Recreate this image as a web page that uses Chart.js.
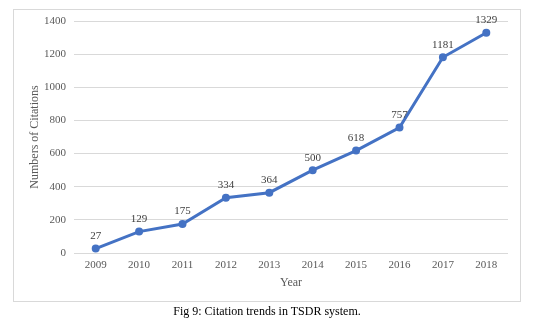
<!DOCTYPE html>
<html>
<head>
<meta charset="utf-8">
<script src="https://cdn.jsdelivr.net/npm/chart.js@4"></script>
<style>
  html, body { margin: 0; padding: 0; background: #fff; }
  #wrap { position: relative; width: 534px; height: 321px; overflow: hidden; }
  #frame { position: absolute; left: 13px; top: 9px; width: 508px; height: 293px; border: 1px solid #d9d9d9; box-sizing: border-box; }
  #chart { position: absolute; left: 0; top: 0; }
  #caption { position: absolute; left: 0; width: 534px; top: 304px; text-align: center;
    font: 12px "Liberation Serif", "Times New Roman", serif; color: #000; }
</style>
</head>
<body>
<div id="wrap">
  <div id="frame"></div>
  <canvas id="chart" width="534" height="321"></canvas>
  <div id="caption">Fig 9: Citation trends in TSDR system.</div>
</div>
<script>
// Citation trends chart
var years = ['2009', '2010', '2011', '2012', '2013', '2014', '2015', '2016', '2017', '2018'];
var citations = [27, 129, 175, 334, 364, 500, 618, 757, 1181, 1329];
var yTicks = [0, 200, 400, 600, 800, 1000, 1200, 1400];

var SERIF = '"Liberation Serif", "Times New Roman", serif';
var BLUE = '#4472C4';
var GREY = '#595959';

// value labels above each point
var pointLabels = {
  id: 'pointLabels',
  afterDatasetsDraw: function (chart) {
    var ctx = chart.ctx;
    var meta = chart.getDatasetMeta(0);
    meta.data.forEach(function (pt, i) {
      ctx.save();
      ctx.fillStyle = '#404040';
      ctx.font = '11px ' + SERIF;
      ctx.textAlign = 'center';
      ctx.textBaseline = 'bottom';
      ctx.fillText(String(citations[i]), pt.x, pt.y - 7);
      ctx.restore();
    });
  }
};

new Chart(document.getElementById('chart').getContext('2d'), {
  type: 'line',
  data: {
    labels: years,
    datasets: [{
      data: citations,
      borderColor: BLUE,
      backgroundColor: BLUE,
      borderWidth: 3,
      pointRadius: 2.5,
      pointBackgroundColor: BLUE,
      tension: 0,
      fill: false
    }]
  },
  options: {
    responsive: false,
    animation: false,
    layout: { padding: { left: 24, right: 26, top: 21, bottom: 27 } },
    plugins: { legend: { display: false }, tooltip: { enabled: false } },
    scales: {
      x: {
        offset: true,
        grid: { display: false, drawTicks: false },
        border: { display: false },
        ticks: { color: GREY, font: { family: SERIF, size: 11 }, padding: 6, maxRotation: 0 },
        title: { display: true, text: 'Year', color: GREY, font: { family: SERIF, size: 12 }, padding: { top: 2, bottom: 4 } },
        afterFit: function (s) { s.height = 41; }
      },
      y: {
        min: 0,
        max: 1400,
        afterBuildTicks: function (s) { s.ticks = yTicks.map(function (v) { return { value: v }; }); },
        grid: { color: '#d9d9d9', drawTicks: false },
        border: { display: false },
        ticks: {
          color: GREY, font: { family: SERIF, size: 11 }, padding: 8,
          callback: function (v) { return String(v); }
        },
        title: { display: true, text: 'Numbers of Citations', color: GREY, font: { family: SERIF, size: 12 }, padding: { top: 4, bottom: 4 } },
        afterFit: function (s) { s.width = 50; }
      }
    }
  },
  plugins: [pointLabels]
});
</script>
</body>
</html>
